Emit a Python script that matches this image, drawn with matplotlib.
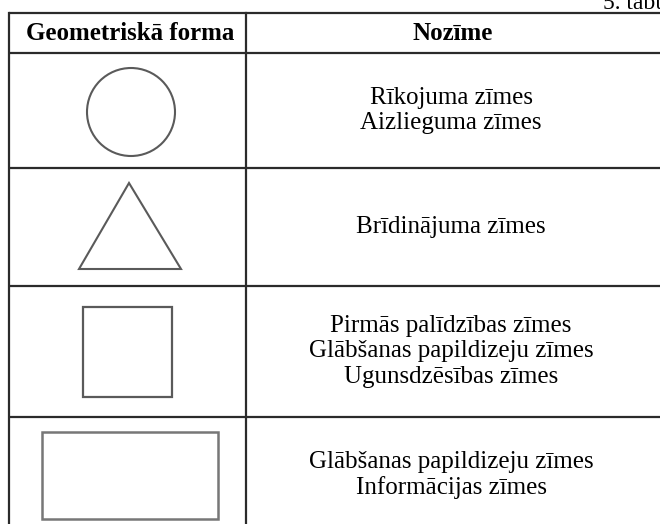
import matplotlib
matplotlib.use("Agg")
import matplotlib.pyplot as plt
from matplotlib.patches import Circle, Polygon, Rectangle

plt.rcParams['font.family'] = ['Liberation Serif', 'DejaVu Serif']

# saturs
headers = ["Geometriskā forma", "Nozīme"]
shapes = ["circle", "triangle", "square", "rectangle"]
meanings = [
    ["Rīkojuma zīmes", "Aizlieguma zīmes"],
    ["Brīdinājuma zīmes"],
    ["Pirmās palīdzības zīmes", "Glābšanas papildizeju zīmes", "Ugunsdzēsības zīmes"],
    ["Glābšanas papildizeju zīmes", "Informācijas zīmes"],
]
caption = "5. tabula"

# izkārtojums pikseļos
W, H = 660, 524
x_left, x_mid, x_right = 9, 246, 664
row_edges = [13, 53, 168, 286, 417, 533]

fig = plt.figure(figsize=(W / 100, H / 100), dpi=100)
ax = fig.add_axes([0, 0, 1, 1])
ax.set_xlim(0, W)
ax.set_ylim(H, 0)
ax.axis('off')

line_c = '#2b2b2b'
shape_c = '#5a5a5a'

# režģis
for y in row_edges[:-1]:
    ax.plot([x_left, x_right], [y, y], color=line_c, lw=1.6, solid_capstyle='butt')
ax.plot([x_left, x_left], [row_edges[0], row_edges[-1]], color=line_c, lw=1.6)
ax.plot([x_mid, x_mid], [row_edges[0], row_edges[-1]], color=line_c, lw=1.6)

ax.text(603, 9, caption, fontsize=17, ha='left', va='baseline')

c1 = (x_left + x_mid) / 2
c2 = (x_mid + x_right) / 2
hy = (row_edges[0] + row_edges[1]) / 2
ax.text(c1 + 3, hy, headers[0], fontsize=18, fontweight='bold', ha='center', va='center')
ax.text(c2 - 2, hy, headers[1], fontsize=18, fontweight='bold', ha='center', va='center')

for i, (shape, lines) in enumerate(zip(shapes, meanings)):
    top, bot = row_edges[i + 1], row_edges[i + 2]
    cy = (top + bot) / 2
    if shape == "circle":
        p = Circle((131, cy + 1.5), 44, fill=False, ec=shape_c, lw=1.5)
    elif shape == "triangle":
        p = Polygon([(129, 183), (79, 269), (181, 269)], closed=True,
                    fill=False, ec=shape_c, lw=1.5)
    elif shape == "square":
        p = Rectangle((83, 307), 89, 90, fill=False, ec=shape_c, lw=1.6)
    else:
        p = Rectangle((42, 432), 176, 87, fill=False, ec='#777777', lw=1.8)
    ax.add_patch(p)
    ty = cy if shape != "rectangle" else 475
    ax.text(c2 - 4, ty, "\n".join(lines), fontsize=18, ha='center', va='center',
            linespacing=1.22)

fig.savefig("out.png", dpi=100)
